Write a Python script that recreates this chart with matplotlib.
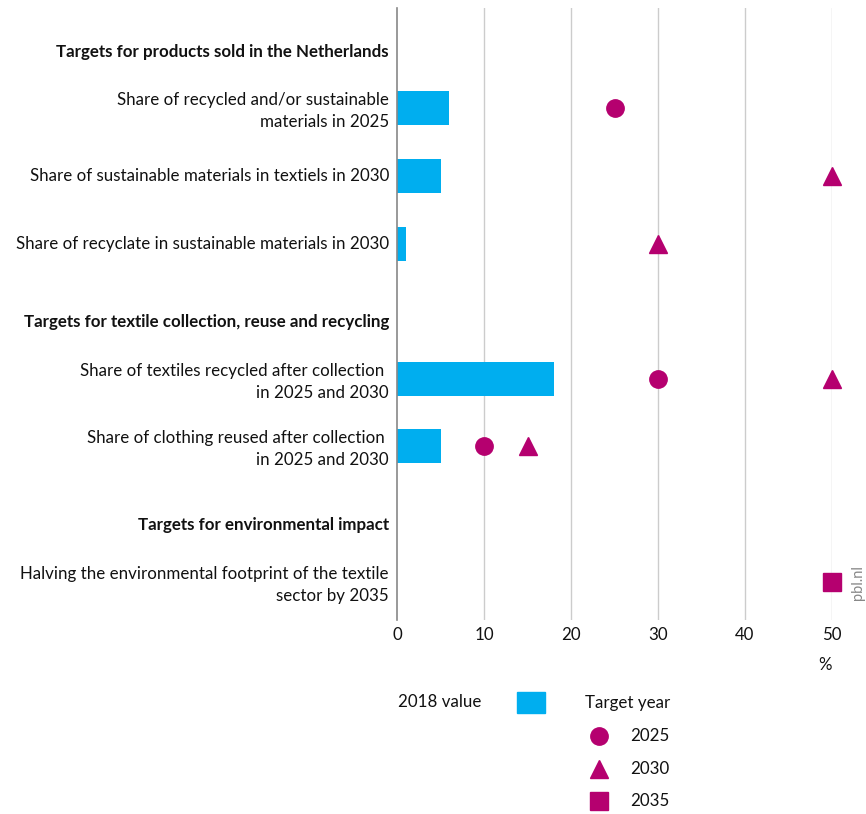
import matplotlib.pyplot as plt
from matplotlib.lines import Line2D
from matplotlib.patches import Rectangle

plt.rcParams["font.family"] = ["Lato", "DejaVu Sans"]

# rows from top to bottom; headers have no values
labels = [
    "Targets for products sold in the Netherlands",
    "Share of recycled and/or sustainable\nmaterials in 2025",
    "Share of sustainable materials in textiels in 2030",
    "Share of recyclate in sustainable materials in 2030",
    "Targets for textile collection, reuse and recycling",
    "Share of textiles recycled after collection \nin 2025 and 2030",
    "Share of clothing reused after collection \nin 2025 and 2030",
    "Targets for environmental impact",
    "Halving the environmental footprint of the textile\nsector by 2035",
]
is_header = [True, False, False, False, True, False, False, True, False]
value_2018 = [None, 6, 5, 1, None, 18, 5, None, None]
target_2025 = [None, 25, None, None, None, 30, 10, None, None]
target_2030 = [None, None, 50, 30, None, 50, 15, None, None]
target_2035 = [None, None, None, None, None, None, None, None, 50]

xticks = [0, 10, 20, 30, 40, 50]

# vertical placement of rows (pixel-like units, top = 8)
row_y = [52, 108, 176, 244, 322, 379, 446, 525, 582]

BLUE = "#00AEEF"
MAGENTA = "#B5006F"
TEXT = "#111111"
FS = 12.2

fig = plt.figure(figsize=(8.66, 8.14), dpi=100)
fig.patch.set_facecolor("white")
ax = fig.add_axes([397 / 866, 1 - 620 / 814, (832 - 397) / 866, (620 - 8) / 814])
ax.set_xlim(0, 50)
ax.set_ylim(620, 8)

for x in xticks[1:]:
    ax.axvline(x, color="#CCCCCC", linewidth=1, zorder=0)

for y, v in zip(row_y, value_2018):
    if v is not None:
        ax.barh(y, v, height=34, color=BLUE, zorder=2)

for series, marker in [(target_2025, "o"), (target_2030, "^"), (target_2035, "s")]:
    for y, v in zip(row_y, series):
        if v is not None:
            ax.plot(v, y, marker=marker, markersize=12.5, color=MAGENTA,
                    linestyle="none", clip_on=False, zorder=3)

for y, text, header in zip(row_y, labels, is_header):
    ax.annotate(text, xy=(0, y), xycoords=("axes fraction", "data"),
                xytext=(-8, -3 if "\n" in text else 0), textcoords="offset pixels",
                ha="right", va="center", multialignment="right",
                fontsize=FS, color=TEXT, linespacing=1.4,
                fontweight="bold" if header else "normal")

ax.set_xticks(xticks)
ax.set_xticklabels([str(t) for t in xticks], fontsize=FS, color=TEXT)
ax.tick_params(axis="x", length=0, pad=5)
ax.set_yticks([])
for side in ["top", "right", "bottom"]:
    ax.spines[side].set_visible(False)
ax.spines["left"].set_color("#888888")
ax.spines["left"].set_linewidth(1.2)

fig.text(825 / 866, 1 - 665 / 814, "%", ha="center", va="center", fontsize=FS, color=TEXT)
fig.text(858 / 866, 1 - 583 / 814, "pbl.nl", ha="center", va="center", rotation=90,
         fontsize=10.5, color="#888888")

# legend
fig.text(398 / 866, 1 - 702 / 814, "2018 value", ha="left", va="center", fontsize=FS, color=TEXT)
fig.patches.append(Rectangle((517 / 866, 1 - 713 / 814), 28 / 866, 21 / 814,
                             transform=fig.transFigure, color=BLUE))
fig.text(585 / 866, 1 - 703 / 814, "Target year", ha="left", va="center", fontsize=FS, color=TEXT)
for yp, marker, year in [(736, "o", "2025"), (769, "^", "2030"), (801, "s", "2035")]:
    fig.add_artist(Line2D([599 / 866], [1 - yp / 814], marker=marker, markersize=12.5,
                          color=MAGENTA, linestyle="none", transform=fig.transFigure))
    fig.text(630 / 866, 1 - yp / 814, year, ha="left", va="center", fontsize=FS, color=TEXT)

fig.savefig("out.png", dpi=100, facecolor="white")
